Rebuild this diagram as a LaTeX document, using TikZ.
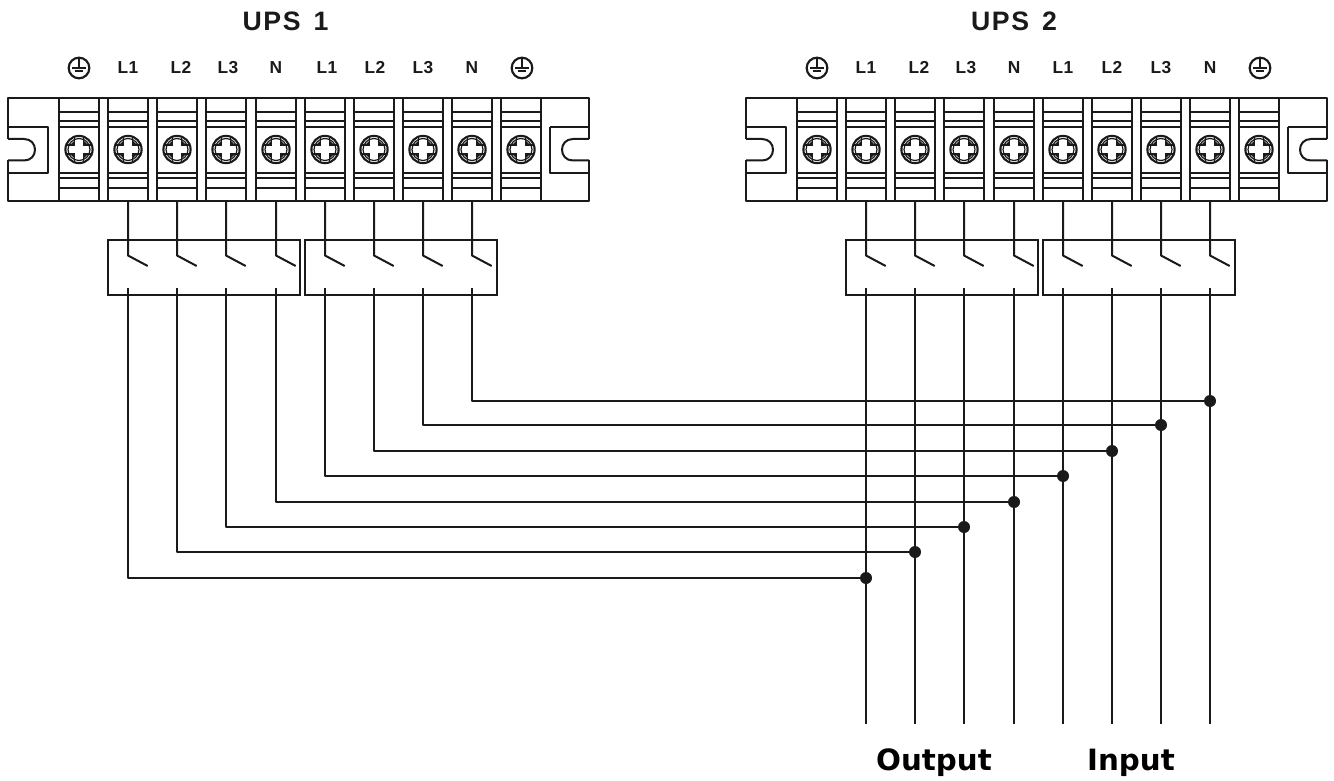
\documentclass[tikz,border=0pt]{standalone}
\usepackage{fontspec}
\setmainfont{Liberation Sans}
\newfontfamily\titlefont[LetterSpace=6]{Liberation Sans}
\newfontfamily\labelfont[LetterSpace=2]{Liberation Sans}
\newfontfamily\iofont{DejaVu Sans}
\definecolor{ink}{HTML}{1A1A1A}
\tikzset{
  wire/.style={draw=ink,line width=1.5pt,line cap=butt,line join=round},
  thinline/.style={draw=ink,line width=1.5pt,line join=round},
  cellbox/.style={draw=ink,line width=1.5pt,rectangle,inner sep=0pt,outer sep=0pt,minimum width=30pt,minimum height=77.25pt},
  swbox/.style={draw=ink,line width=1.5pt,rectangle,inner sep=0pt,outer sep=0pt,minimum width=144pt,minimum height=41.25pt},
  junction/.style={circle,fill=ink,inner sep=0pt,outer sep=0pt,minimum size=9pt},
  gndring/.style={circle,draw=ink,line width=1.6pt,inner sep=0pt,outer sep=0pt,minimum size=15.5pt},
  title/.style={anchor=base,font=\titlefont\bfseries\fontsize{20}{20}\selectfont,text=ink,inner sep=0pt},
  termlabel/.style={anchor=base,font=\labelfont\bfseries\fontsize{13}{13}\selectfont,text=ink,inner sep=0pt},
  iolabel/.style={anchor=base,font=\iofont\bfseries\fontsize{22}{22}\selectfont,text=black,inner sep=0pt}
}
\newcommand{\gndsym}[3]{%
  \node[gndring] (#1) at (#2,#3) {};
  \draw[draw=ink,line width=1.2pt] (#1.north) -- (#1.center)
    ([xshift=-5pt]#1.center) -- ([xshift=5pt]#1.center)
    ([xshift=-3.2pt,yshift=-2.2pt]#1.center) -- ([xshift=3.2pt,yshift=-2.2pt]#1.center);
}
\newcommand{\screw}[1]{%
  \begin{scope}[shift={(#1,149.5)}]
    \begin{scope}
      \clip (0,0) circle (13.6);
      \fill[white] (0,0) circle (13.6);
      \draw[draw=ink,line width=0.9pt] (0,0) circle (11);
      \fill[ink] (4.5,4.5)--(9,4.5)--(4.5,9)--cycle (-4.5,4.5)--(-9,4.5)--(-4.5,9)--cycle
                 (4.5,-4.5)--(9,-4.5)--(4.5,-9)--cycle (-4.5,-4.5)--(-9,-4.5)--(-4.5,-9)--cycle;
      \draw[draw=ink,line width=1pt] (-15,-4.5)--(-4.5,-4.5)--(-4.5,-15) (15,-4.5)--(4.5,-4.5)--(4.5,-15)
                 (-15,4.5)--(-4.5,4.5)--(-4.5,15) (15,4.5)--(4.5,4.5)--(4.5,15);
    \end{scope}
    \draw[draw=ink,line width=1.6pt] (0,0) circle (13.6);
  \end{scope}
}
\newcommand{\termblock}[2]{%
  \begin{scope}[shift={(#2,0)}]
    \draw[wire] (8,139) -- (8,98) -- (589,98) -- (589,139);
    \draw[wire] (589,160.5) -- (589,201) -- (8,201) -- (8,160.5);
    \draw[thinline] (8,127) -- (48,127) -- (48,173) -- (8,173);
    \draw[thinline] (550,127) -- (589,127) (550,127) -- (550,173) -- (589,173);
    \draw[wire] (8,139) -- (24,139) .. controls (31,139) and (35,144) .. (35,149.7)
       .. controls (35,155.5) and (31,160.5) .. (24,160.5) -- (8,160.5);
    \draw[wire] (589,139) -- (573,139) .. controls (566,139) and (562,144) .. (562,149.7)
       .. controls (562,155.5) and (566,160.5) .. (573,160.5) -- (589,160.5);
    \foreach \i in {0,...,9}{
      \pgfmathsetmacro{\cx}{round(79+49.15*\i)}
      \node[cellbox] (#1c\i) at (\cx,149.5) {};
      \foreach \yy in {112,121,127,173,178,188}{
        \draw[thinline] (\cx-20,\yy) -- (\cx+20,\yy);
      }
      \screw{\cx}
    }
    \node[swbox] (#1boxa) at (204,267.5) {};
    \node[swbox] (#1boxb) at (401,267.5) {};
    \foreach \i in {1,...,8}{
      \pgfmathsetmacro{\wx}{round(79+49.15*\i)}
      \coordinate (#1p\i) at (\wx,255.5);
      \coordinate (#1q\i) at (\wx+19.7,266);
      \coordinate (#1r\i) at (\wx,287.7);
      \draw[wire] (#1c\i.south) -- (#1p\i) -- (#1q\i);
    }
  \end{scope}
}
\begin{document}
\begin{tikzpicture}[x=0.75pt,y=-0.75pt]
\useasboundingbox (0,0) rectangle (1334,781);
\fill[white] (0,0) rectangle (1334,781);

\termblock{a}{0}
\termblock{b}{738}

% titles
\node[title] (titlea) at (285.5,31) {UPS\hspace{3pt} 1};
\node[title] (titleb) at (1014,31) {UPS\hspace{3pt} 2};

% terminal labels, UPS 1
\gndsym{ga1}{79}{68}
\node[termlabel] (la1) at (128,74) {L1};
\node[termlabel] (la2) at (181,74) {L2};
\node[termlabel] (la3) at (228,74) {L3};
\node[termlabel] (la4) at (276,74) {N};
\node[termlabel] (la5) at (327,74) {L1};
\node[termlabel] (la6) at (375,74) {L2};
\node[termlabel] (la7) at (423,74) {L3};
\node[termlabel] (la8) at (472,74) {N};
\gndsym{ga2}{522}{68}
% terminal labels, UPS 2
\gndsym{gb1}{817}{68}
\node[termlabel] (lb1) at (866,74) {L1};
\node[termlabel] (lb2) at (919,74) {L2};
\node[termlabel] (lb3) at (966,74) {L3};
\node[termlabel] (lb4) at (1014,74) {N};
\node[termlabel] (lb5) at (1063,74) {L1};
\node[termlabel] (lb6) at (1112,74) {L2};
\node[termlabel] (lb7) at (1161,74) {L3};
\node[termlabel] (lb8) at (1210,74) {N};
\gndsym{gb2}{1260}{68}

% junctions and free ends
\foreach \i/\yy in {1/578,2/552,3/527,4/502,5/476,6/451,7/425,8/401}{
  \pgfmathsetmacro{\wx}{round(79+49.15*\i)+738}
  \node[junction] (j\i) at (\wx,\yy) {};
  \coordinate (out\i) at (\wx,724);
  \draw[wire] (br\i) -- (out\i);
  \draw[wire] (ar\i) |- (j\i);
}

\node[iolabel] (output) at (934,770) {Output};
\node[iolabel] (input) at (1131,770) {Input};
\end{tikzpicture}
\end{document}
